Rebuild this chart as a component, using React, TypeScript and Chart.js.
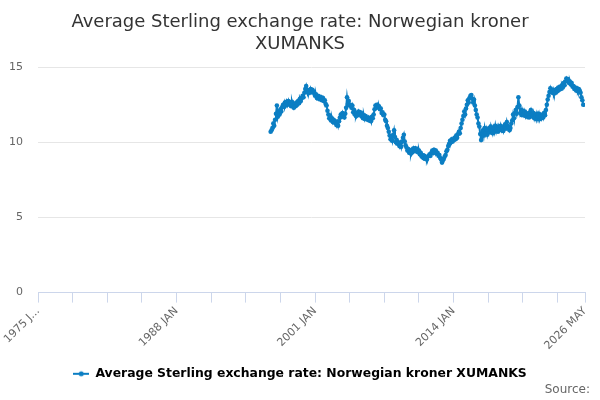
import { useEffect, useRef } from 'react';
import { Chart, registerables } from 'chart.js';

Chart.register(...registerables);
Chart.defaults.font.family = '"DejaVu Sans", sans-serif';

const seriesLabel = 'Average Sterling exchange rate: Norwegian kroner XUMANKS';
const titleLines = ['Average Sterling exchange rate: Norwegian kroner', 'XUMANKS'];
const lineColor = '#0b7ec3';

// months counted from 1975 JAN
const firstMonth = 262; // 1996 NOV
const lastAxisMonth = 616; // 2026 MAY

const xTickMonths = [0, 39, 78, 117, 156, 195, 234, 273, 312, 351, 390, 429, 468, 507, 546, 585, 616];
const xLabelMonths = [0, 156, 312, 468, 616];
const xLabels = ['1975 J...', '1988 JAN', '2001 JAN', '2014 JAN', '2026 MAY'];
const yTicks = [0, 5, 10, 15];

// monthly values from 1996 NOV
const rates = [
  10.7, 10.8,
  // 1997
  10.95, 11.25, 11.1, 11.5, 11.9, 12.45, 11.7, 12.0, 11.85, 12.2, 12.05, 12.35,
  // 1998
  12.5, 12.35, 12.65, 12.45, 12.7, 12.5, 12.75, 12.55, 12.65, 12.4, 12.7, 12.45,
  // 1999
  12.3, 12.55, 12.4, 12.65, 12.5, 12.75, 12.6, 12.9, 12.75, 12.95, 13.1, 13.0,
  // 2000
  13.3, 13.55, 13.75, 13.5, 13.3, 13.45, 13.3, 13.55, 13.35, 13.5, 13.4, 13.25,
  // 2001
  13.1, 13.2, 12.95, 13.1, 12.9, 13.05, 12.85, 13.0, 12.8, 12.95, 12.75, 12.8,
  // 2002
  12.55, 12.45, 12.1, 11.85, 11.6, 11.75, 11.45, 11.6, 11.35, 11.5, 11.3, 11.4,
  // 2003
  11.15, 11.35, 11.1, 11.4, 11.65, 11.85, 11.7, 11.95, 11.75, 11.65, 11.9, 12.3,
  // 2004
  13.0, 12.55, 12.75, 12.45, 12.5, 12.3, 12.45, 12.0, 12.15, 11.85, 11.75, 11.95,
  // 2005
  11.8, 12.05, 11.9, 12.0, 11.75, 11.9, 11.6, 11.8, 11.55, 11.75, 11.6, 11.5,
  // 2006
  11.65, 11.45, 11.55, 11.4, 11.7, 11.6, 11.85, 12.2, 12.45, 12.3, 12.5, 12.35,
  // 2007
  12.4, 12.2, 12.25, 11.95, 12.0, 11.8, 11.85, 11.5, 11.4, 11.1, 10.95, 10.7,
  // 2008
  10.45, 10.2, 10.35, 10.1, 10.5, 10.8, 10.35, 10.0, 10.15, 9.9, 10.0, 9.75,
  // 2009
  9.95, 9.7, 10.05, 10.3, 10.5, 10.05, 9.8, 9.65, 9.45, 9.55, 9.3, 9.35,
  // 2010
  9.25, 9.5, 9.35, 9.6, 9.45, 9.6, 9.4, 9.55, 9.35, 9.45, 9.2, 9.3,
  // 2011
  9.05, 9.15, 8.95, 9.1, 8.9, 9.0, 8.85, 9.05, 9.1, 9.2, 9.1, 9.3,
  // 2012
  9.45, 9.3, 9.5, 9.35, 9.45, 9.25, 9.3, 9.1, 9.15, 8.95, 8.85, 8.65,
  // 2013
  8.8, 8.9, 9.05, 9.15, 9.4, 9.5, 9.75, 9.9, 10.1, 10.0, 10.2, 10.05,
  // 2014
  10.15, 10.3, 10.2, 10.45, 10.3, 10.55, 10.7, 10.6, 10.95, 11.25, 11.5, 11.75,
  // 2015
  12.05, 11.85, 12.25, 12.5, 12.8, 12.65, 12.95, 13.1, 13.15, 12.9, 12.65, 12.85,
  // 2016
  12.45, 12.15, 11.85, 11.65, 11.25, 11.05, 10.55, 10.15, 10.6, 10.8, 10.45, 10.95,
  // 2017
  10.6, 10.85, 10.5, 10.75, 10.95, 10.65, 11.05, 10.8, 10.6, 10.95, 10.7, 11.1,
  // 2018
  10.75, 11.0, 10.7, 11.05, 10.85, 11.1, 10.8, 10.95, 10.75, 11.05, 11.2, 10.9,
  // 2019
  11.35, 11.1, 11.0, 10.8, 10.95, 11.25, 11.45, 11.85, 11.6, 11.95, 12.15, 11.9,
  // 2020
  12.35, 13.0, 12.45, 11.95, 12.15, 11.8, 12.1, 11.85, 12.05, 11.75, 11.95, 11.7,
  // 2021
  11.85, 11.65, 12.0, 12.15, 11.85, 11.7, 11.95, 11.6, 11.8, 11.55, 11.9, 11.7,
  // 2022
  11.9, 11.55, 11.8, 11.6, 11.85, 11.65, 11.95, 11.8, 12.15, 12.5, 12.85, 13.1,
  // 2023
  13.35, 13.6, 13.4, 13.3, 13.5, 13.25, 13.45, 13.3, 13.55, 13.4, 13.65, 13.5,
  // 2024
  13.7, 13.55, 13.8, 13.65, 13.95, 13.8, 14.05, 14.25, 14.1, 14.2, 13.95, 14.05,
  // 2025
  13.85, 13.95, 13.7, 13.75, 13.55, 13.65, 13.45, 13.6, 13.4, 13.55, 13.45, 13.3,
  // 2026
  13.0, 12.8, 12.5,
];

function makeLegendSymbol(color: string) {
  const c = document.createElement('canvas');
  c.width = 16;
  c.height = 8;
  const ctx = c.getContext('2d')!;
  ctx.strokeStyle = color;
  ctx.lineWidth = 2;
  ctx.beginPath();
  ctx.moveTo(0, 4);
  ctx.lineTo(16, 4);
  ctx.stroke();
  ctx.fillStyle = color;
  ctx.beginPath();
  ctx.arc(8, 4, 2.5, 0, Math.PI * 2);
  ctx.fill();
  return c;
}

const sourcePlugin = {
  id: 'sourceText',
  afterDraw(chart: Chart) {
    const { ctx } = chart;
    ctx.save();
    ctx.font = '12px "DejaVu Sans", sans-serif';
    ctx.fillStyle = '#666666';
    ctx.textAlign = 'right';
    ctx.textBaseline = 'middle';
    ctx.fillText('Source:', 590, 390);
    ctx.restore();
  },
};

export default function App() {
  const canvasRef = useRef<HTMLCanvasElement>(null);

  useEffect(() => {
    if (!canvasRef.current) return;
    const symbol = makeLegendSymbol(lineColor);

    const chart = new Chart(canvasRef.current, {
      type: 'line',
      data: {
        datasets: [
          {
            label: seriesLabel,
            data: rates.map((v, i) => ({ x: firstMonth + i, y: v })),
            borderColor: lineColor,
            backgroundColor: lineColor,
            borderWidth: 2,
            pointRadius: 2.3,
            pointBorderWidth: 0,
            pointBackgroundColor: lineColor,
            tension: 0,
          },
        ],
      },
      options: {
        animation: false,
        responsive: true,
        maintainAspectRatio: false,
        events: [],
        layout: { padding: { top: 0, left: 0, right: 0, bottom: 10 } },
        plugins: {
          title: {
            display: true,
            text: titleLines,
            color: '#333333',
            font: { size: 18, weight: 'normal' },
            padding: { top: 12, bottom: 12 },
          },
          legend: {
            position: 'bottom',
            labels: {
              usePointStyle: true,
              pointStyleWidth: 16,
              color: '#333333',
              font: { size: 12.4, weight: 'bold' },
              padding: 10,
              generateLabels: () => [
                {
                  text: seriesLabel,
                  pointStyle: symbol,
                  fillStyle: lineColor,
                  strokeStyle: lineColor,
                  lineWidth: 0,
                  hidden: false,
                  datasetIndex: 0,
                },
              ],
            },
          },
          tooltip: { enabled: false },
        },
        scales: {
          x: {
            type: 'linear',
            min: 0,
            max: lastAxisMonth,
            afterBuildTicks: (axis) => {
              axis.ticks = xTickMonths.map((value) => ({ value }));
            },
            afterFit: (axis) => {
              axis.height = 65;
              axis.paddingLeft = 0;
              axis.paddingRight = 15;
            },
            grid: { drawOnChartArea: false, drawTicks: true, tickLength: 10, color: '#ccd6eb' },
            border: { display: true, color: '#ccd6eb' },
            ticks: {
              autoSkip: false,
              minRotation: 45,
              maxRotation: 45,
              padding: 2,
              color: '#666666',
              font: { size: 11 },
              callback: (value) => {
                const i = xLabelMonths.indexOf(Number(value));
                return i >= 0 ? xLabels[i] : '';
              },
            },
          },
          y: {
            min: 0,
            max: 15,
            afterBuildTicks: (axis) => {
              axis.ticks = yTicks.map((value) => ({ value }));
            },
            afterFit: (axis) => {
              axis.width = 38;
            },
            grid: { color: '#e6e6e6', drawTicks: false },
            border: { display: false },
            ticks: { padding: 15, color: '#666666', font: { size: 11 } },
          },
        },
      },
      plugins: [sourcePlugin],
    });

    return () => {
      chart.destroy();
    };
  }, []);

  return (
    <div style={{ position: 'fixed', left: 0, top: 0, width: 600, height: 400 }}>
      <canvas ref={canvasRef} />
    </div>
  );
}
